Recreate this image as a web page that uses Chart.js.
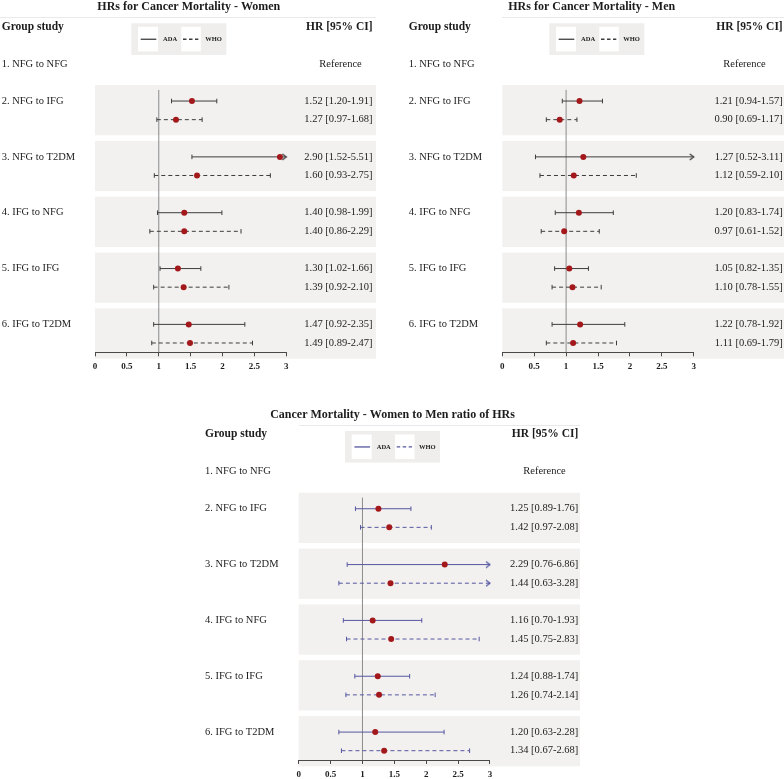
<!DOCTYPE html>
<html><head><meta charset="utf-8">
<script src="https://cdn.jsdelivr.net/npm/chart.js@4.4.1/dist/chart.umd.min.js"></script>
<style>
html,body{margin:0;padding:0;background:#fff;overflow:hidden;width:784px;height:779px;}
canvas{position:absolute;left:0;top:0;}
</style></head><body>
<canvas id="cW" width="784" height="779"></canvas>
<canvas id="cM" width="784" height="779"></canvas>
<canvas id="cR" width="784" height="779"></canvas>
<script>
// ---------------- DATA ----------------
const categories = ['1. NFG to NFG', '2. NFG to IFG', '3. NFG to T2DM', '4. IFG to NFG', '5. IFG to IFG', '6. IFG to T2DM'];
const xTicks = [0, 0.5, 1, 1.5, 2, 2.5, 3];
const xTickLabels = ['0', '0.5', '1', '1.5', '2', '2.5', '3'];
const seriesNames = ['ADA', 'WHO'];

const womenAdaHR = [null, 1.52, 2.90, 1.40, 1.30, 1.47];
const womenAdaLo = [null, 1.20, 1.52, 0.98, 1.02, 0.92];
const womenAdaHi = [null, 1.91, 5.51, 1.99, 1.66, 2.35];
const womenWhoHR = [null, 1.27, 1.60, 1.40, 1.39, 1.49];
const womenWhoLo = [null, 0.97, 0.93, 0.86, 0.92, 0.89];
const womenWhoHi = [null, 1.68, 2.75, 2.29, 2.10, 2.47];

const menAdaHR = [null, 1.21, 1.27, 1.20, 1.05, 1.22];
const menAdaLo = [null, 0.94, 0.52, 0.83, 0.82, 0.78];
const menAdaHi = [null, 1.57, 3.11, 1.74, 1.35, 1.92];
const menWhoHR = [null, 0.90, 1.12, 0.97, 1.10, 1.11];
const menWhoLo = [null, 0.69, 0.59, 0.61, 0.78, 0.69];
const menWhoHi = [null, 1.17, 2.10, 1.52, 1.55, 1.79];

const ratioAdaHR = [null, 1.25, 2.29, 1.16, 1.24, 1.20];
const ratioAdaLo = [null, 0.89, 0.76, 0.70, 0.88, 0.63];
const ratioAdaHi = [null, 1.76, 6.86, 1.93, 1.74, 2.28];
const ratioWhoHR = [null, 1.42, 1.44, 1.45, 1.26, 1.34];
const ratioWhoLo = [null, 0.97, 0.63, 0.75, 0.74, 0.67];
const ratioWhoHi = [null, 2.08, 3.28, 2.83, 2.14, 2.68];

// ---------------- STYLE ----------------
const XMIN = 0, XMAX = 3;
const SERIF = '"Liberation Serif", "Times New Roman", serif';
const DOT = '#a3191b';
const BAND = '#f2f1f0';
const TEXT = '#1c1c1c';

function chevron(color) {
  const c = document.createElement('canvas');
  c.width = 12; c.height = 8;
  const g = c.getContext('2d');
  g.strokeStyle = color; g.lineWidth = 1.2;
  g.beginPath(); g.moveTo(2, 1); g.lineTo(6, 4); g.lineTo(2, 7); g.stroke();
  return c;
}

function fmt(v){ return v.toFixed(2); }

function makePanel(id, cfg, ada, who) {
  const series = [ada, who];
  const datasets = [];
  const dots = [];
  for (let i = 1; i < categories.length; i++) {
    dots.push({x: ada.hr[i], y: 3 * i - 1});
    dots.push({x: who.hr[i], y: 3 * i});
  }
  datasets.push({type: 'scatter', data: dots, pointRadius: 3, pointHoverRadius: 3,
    pointBackgroundColor: DOT, pointBorderWidth: 0, order: 0, clip: false});
  const chev = chevron(cfg.color);
  series.forEach((s, si) => {
    for (let i = 1; i < categories.length; i++) {
      const r = 3 * i - 1 + si;
      const arrow = s.hi[i] > XMAX;
      datasets.push({
        type: 'scatter', showLine: true,
        data: [{x: s.lo[i], y: r}, {x: Math.min(s.hi[i], XMAX), y: r}],
        borderColor: cfg.color, borderWidth: 1, borderDash: si ? [4, 3] : [],
        pointStyle: ['line', arrow ? chev : 'line'],
        rotation: [90, arrow ? 0 : 90],
        pointRadius: 2.3, pointHoverRadius: 2.3,
        pointBorderColor: cfg.color, pointBorderWidth: 1,
        order: 1, clip: false
      });
    }
  });

  const plugin = {
    id: 'forest_' + id,
    beforeDraw(chart) {
      const ctx = chart.ctx, xs = chart.scales.x, ys = chart.scales.y;
      const X = v => xs.getPixelForValue(v), Y = v => ys.getPixelForValue(v);
      ctx.save();
      ctx.fillStyle = BAND;
      for (let i = 1; i < categories.length; i++) {
        const t = Y(3 * i - 1 - 0.86), b = Y(3 * i + 0.84);
        ctx.fillRect(X(XMIN), t, cfg.bandRight - X(XMIN), b - t);
      }
      ctx.strokeStyle = '#e9e9e9'; ctx.lineWidth = 1;
      ctx.beginPath(); ctx.moveTo(cfg.ulLeft, Math.round(Y(-2.5)) + 0.5); ctx.lineTo(cfg.bandRight, Math.round(Y(-2.5)) + 0.5); ctx.stroke();
      ctx.strokeStyle = '#8c8c8c'; ctx.lineWidth = 1;
      ctx.beginPath(); ctx.moveTo(X(1), Y(1.4)); ctx.lineTo(X(1), chart.chartArea.bottom); ctx.stroke();
      ctx.restore();
    },
    afterDraw(chart) {
      const ctx = chart.ctx, xs = chart.scales.x, ys = chart.scales.y;
      const X = v => xs.getPixelForValue(v), Y = v => ys.getPixelForValue(v);
      ctx.save();
      ctx.fillStyle = TEXT;
      ctx.textBaseline = 'middle';
      ctx.font = 'bold 12px ' + SERIF; ctx.textAlign = 'center';
      ctx.fillText(cfg.title, cfg.titleX, Y(-3.05));
      ctx.font = 'bold 11.5px ' + SERIF;
      ctx.textAlign = 'left'; ctx.fillText('Group study', cfg.labelX, Y(-2));
      ctx.textAlign = 'right'; ctx.fillText('HR [95% CI]', cfg.textRight, Y(-2));
      ctx.font = '10.5px ' + SERIF;
      ctx.textAlign = 'left';
      ctx.fillText(categories[0], cfg.labelX, Y(0));
      ctx.textAlign = 'center';
      ctx.fillText('Reference', cfg.refX, Y(0));
      for (let i = 1; i < categories.length; i++) {
        ctx.textAlign = 'left';
        ctx.fillText(categories[i], cfg.labelX, Y(3 * i - 1));
        ctx.textAlign = 'right';
        series.forEach((s, si) => {
          ctx.fillText(fmt(s.hr[i]) + ' [' + fmt(s.lo[i]) + '-' + fmt(s.hi[i]) + ']', cfg.textRight, Y(3 * i - 1 + si));
        });
      }
      const L = cfg.legendX, lt = Y(-2.18), lb = Y(-0.48), ly = Y(-1.32);
      ctx.fillStyle = '#efeeed';
      ctx.fillRect(L, lt, 95, lb - lt);
      ctx.fillStyle = '#ffffff';
      ctx.fillRect(L + 6.7, lt + 3.5, 20, lb - lt - 7);
      ctx.fillRect(L + 50, lt + 3.5, 19.5, lb - lt - 7);
      ctx.strokeStyle = cfg.color; ctx.lineWidth = 1.3;
      ctx.beginPath(); ctx.moveTo(L + 9.4, ly); ctx.lineTo(L + 25, ly); ctx.stroke();
      ctx.setLineDash([3.5, 2.5]);
      ctx.beginPath(); ctx.moveTo(L + 51.7, ly); ctx.lineTo(L + 67, ly); ctx.stroke();
      ctx.setLineDash([]);
      ctx.fillStyle = TEXT;
      ctx.font = 'bold 6.5px ' + SERIF; ctx.textAlign = 'left';
      ctx.fillText(seriesNames[0], L + 31.7, ly + 0.5);
      ctx.fillText(seriesNames[1], L + 74, ly + 0.5);
      ctx.restore();
    }
  };

  return new Chart(document.getElementById(id), {
    type: 'scatter',
    data: {datasets},
    plugins: [plugin],
    options: {
      responsive: false, animation: false, devicePixelRatio: 1,
      events: [],
      layout: {padding: {left: cfg.x0, right: 784 - cfg.x3, top: cfg.top, bottom: 779 - cfg.bottom - 25}},
      plugins: {legend: {display: false}, tooltip: {enabled: false}, title: {display: false}},
      scales: {
        x: {
          type: 'linear', min: XMIN, max: XMAX, position: 'bottom',
          afterFit: s => { s.height = 25; },
          afterBuildTicks: s => { s.ticks = xTicks.map(v => ({value: v})); },
          grid: {drawOnChartArea: false, drawTicks: true, tickLength: 4, color: '#4a4a4a', lineWidth: 1},
          border: {display: true, color: '#4a4a4a', width: 1},
          ticks: {color: TEXT, font: {family: SERIF, size: 9, weight: 'bold'}, padding: 5, maxRotation: 0, autoSkip: false,
            callback: (v) => { const k = xTicks.indexOf(v); return k >= 0 ? xTickLabels[k] : ''; }}
        },
        y: {type: 'linear', display: false, min: -2, max: 15.5, reverse: true}
      }
    }
  });
}

makePanel('cW', {x0: 95, x3: 286.3, top: 26.6, bottom: 352.3, labelX: 1.7, textRight: 372.5, refX: 340.5,
  titleX: 188.8, legendX: 131.3, bandRight: 376, ulLeft: 0, color: '#3d3d3d', title: 'HRs for Cancer Mortality - Women'},
  {hr: womenAdaHR, lo: womenAdaLo, hi: womenAdaHi}, {hr: womenWhoHR, lo: womenWhoLo, hi: womenWhoHi});

makePanel('cM', {x0: 502.3, x3: 693.7, top: 26.6, bottom: 352.3, labelX: 408.7, textRight: 782.7, refX: 744.5,
  titleX: 591.7, legendX: 549.3, bandRight: 784, ulLeft: 502, color: '#3d3d3d', title: 'HRs for Cancer Mortality - Men'},
  {hr: menAdaHR, lo: menAdaLo, hi: menAdaHi}, {hr: menWhoHR, lo: menWhoLo, hi: menWhoHi});

makePanel('cR', {x0: 298.7, x3: 490, top: 434.3, bottom: 760, labelX: 205, textRight: 578.3, refX: 544.5,
  titleX: 392.5, legendX: 345, bandRight: 580, ulLeft: 299, color: '#55569f', title: 'Cancer Mortality - Women to Men ratio of HRs'},
  {hr: ratioAdaHR, lo: ratioAdaLo, hi: ratioAdaHi}, {hr: ratioWhoHR, lo: ratioWhoLo, hi: ratioWhoHi});
</script>
</body></html>
